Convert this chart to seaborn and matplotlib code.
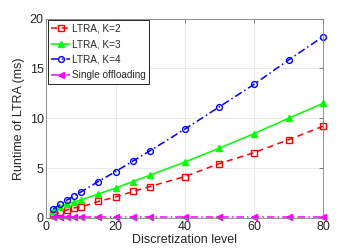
import pandas as pd
import numpy as np
import matplotlib.pyplot as plt
import seaborn as sns

sns.set_style("whitegrid")
plt.rcParams['font.family'] = ['Liberation Sans', 'DejaVu Sans']

levels = [2, 4, 6, 8, 10, 15, 20, 25, 30, 40, 50, 60, 70, 80]
k2 = [0.3, 0.55, 0.8, 1.0, 1.1, 1.65, 2.1, 2.65, 3.15, 4.15, 5.45, 6.55, 7.85, 9.2]
k3 = [0.7, 1.1, 1.4, 1.6, 1.8, 2.4, 3.0, 3.65, 4.3, 5.6, 7.0, 8.45, 10.0, 11.5]
k4 = [0.9, 1.35, 1.8, 2.2, 2.6, 3.65, 4.65, 5.7, 6.75, 8.9, 11.15, 13.4, 15.85, 18.2]
single = [0.1] * 14
names = ["LTRA, K=2", "LTRA, K=3", "LTRA, K=4", "Single offloading"]

df = pd.DataFrame({"level": levels * 4,
                   "runtime": k2 + k3 + k4 + single,
                   "method": np.repeat(names, len(levels))})

colors = ["#ff0000", "#00ff00", "#0000ff", "#ff00ff"]
markers = ["s", "^", "o", "<"]
dashes = [(4, 3), "", (5, 2, 1, 2), (5, 2, 1, 2)]
faces = ["none", "#00ff00", "none", "#ff00ff"]

fig, ax = plt.subplots(figsize=(3.57, 2.49), dpi=100)
for name, c, m, d, f in zip(names, colors, markers, dashes, faces):
    sub = df[df["method"] == name]
    sns.lineplot(data=sub, x="level", y="runtime", ax=ax, color=c, marker=m,
                 markersize=4.2, markerfacecolor=f, markeredgecolor=c,
                 markeredgewidth=1, linewidth=1.1, dashes=False, label=name,
                 clip_on=False)
    if d:
        ax.lines[-1].set_dashes(d)

ax.set_xlim(0, 80)
ax.set_ylim(0, 20)
ax.set_xticks([0, 20, 40, 60, 80])
ax.set_yticks([0, 5, 10, 15, 20])
ax.set_xlabel("Discretization level", fontsize=9, labelpad=1)
ax.set_ylabel("Runtime of LTRA (ms)", fontsize=9, labelpad=3)
ax.tick_params(labelsize=9, direction="in", length=3, pad=2,
               right=True, top=True, color="#808080")
ax.grid(color="#e6e6e6", linewidth=0.6)
for s in ax.spines.values():
    s.set_color("#808080")
    s.set_linewidth(0.6)

leg = ax.legend(loc="upper left", fontsize=7.2, frameon=True, fancybox=False,
                borderpad=0.35, labelspacing=0.55, handlelength=1.9,
                handletextpad=0.15, borderaxespad=0.15)
leg.get_frame().set_edgecolor("black")
leg.get_frame().set_linewidth(0.6)
leg.get_frame().set_alpha(1)

fig.subplots_adjust(left=0.13, right=0.905, top=0.925, bottom=0.125)
fig.savefig("out.png", dpi=100)
